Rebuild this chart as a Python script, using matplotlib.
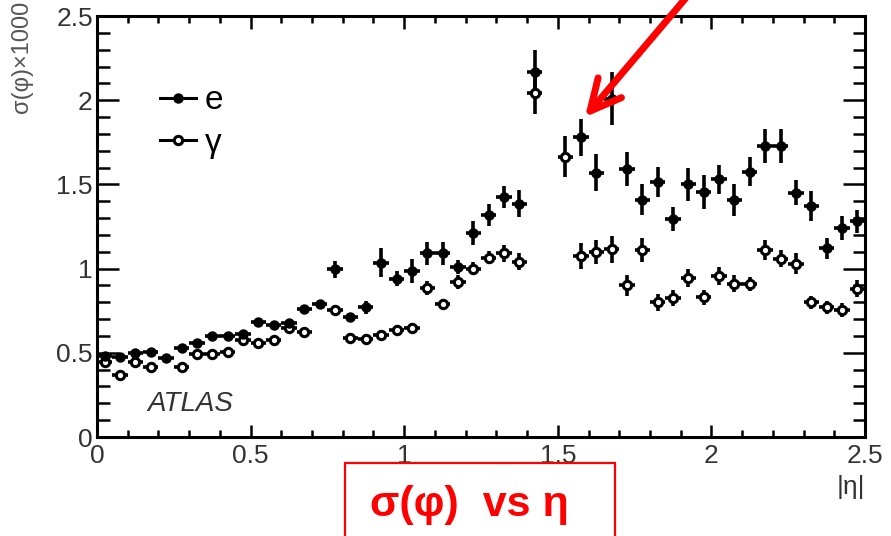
import matplotlib
matplotlib.use("Agg")
import matplotlib.pyplot as plt
import numpy as np
from matplotlib.lines import Line2D
from matplotlib.patches import Rectangle
from matplotlib.ticker import MultipleLocator

plt.rcParams["font.family"] = ["Liberation Sans", "DejaVu Sans"]

# |eta| bin centres, 0.05 wide bins from 0 to 2.5
eta = np.linspace(0.025, 2.475, 50)
half_bin = 0.025

nan = np.nan
# electrons: sigma(phi) x 1000 and its error
sigma_e = [0.48, 0.475, 0.50, 0.505, 0.47, 0.53, 0.56, 0.60, 0.60, 0.61,
           0.68, 0.665, 0.675, 0.76, 0.79, 0.997, 0.71, 0.77, 1.035, 0.94,
           0.985, 1.09, 1.09, 1.01, 1.21, 1.32, 1.425, 1.385, 2.17, nan,
           nan, 1.78, 1.57, 2.01, 1.59, 1.41, 1.515, 1.295, 1.50, 1.455,
           1.53, 1.41, 1.575, 1.73, 1.73, 1.45, 1.37, 1.12, 1.24, 1.28]
err_e = [0.02, 0.02, 0.02, 0.02, 0.02, 0.02, 0.02, 0.02, 0.02, 0.02,
         0.02, 0.02, 0.02, 0.025, 0.025, 0.05, 0.025, 0.04, 0.085, 0.045,
         0.07, 0.07, 0.07, 0.04, 0.07, 0.065, 0.065, 0.08, 0.13, nan,
         nan, 0.11, 0.11, 0.16, 0.10, 0.09, 0.09, 0.07, 0.10, 0.10,
         0.085, 0.095, 0.085, 0.10, 0.10, 0.075, 0.09, 0.06, 0.07, 0.07]

# photons
sigma_g = [0.445, 0.37, 0.445, 0.415, nan, 0.415, 0.49, 0.49, 0.505, 0.575,
           0.56, 0.575, 0.645, 0.625, nan, 0.755, 0.59, 0.58, 0.605, 0.635,
           0.645, 0.885, 0.79, 0.92, 1.00, 1.065, 1.09, 1.04, 2.04, nan,
           1.665, 1.075, 1.10, 1.115, 0.90, 1.11, 0.80, 0.825, 0.945, 0.83,
           0.955, 0.91, 0.91, 1.11, 1.06, 1.03, 0.80, 0.77, 0.755, 0.88]
err_g = [0.02, 0.02, 0.02, 0.02, nan, 0.02, 0.02, 0.02, 0.02, 0.02,
         0.02, 0.02, 0.02, 0.025, nan, 0.03, 0.03, 0.03, 0.03, 0.03,
         0.03, 0.04, 0.03, 0.04, 0.04, 0.04, 0.05, 0.05, 0.12, nan,
         0.12, 0.08, 0.07, 0.08, 0.06, 0.07, 0.05, 0.05, 0.055, 0.045,
         0.055, 0.05, 0.04, 0.06, 0.05, 0.06, 0.04, 0.04, 0.04, 0.05]

fig = plt.figure(figsize=(8.91, 5.36), dpi=100)
ax = fig.add_axes([0.1089, 0.1847, 0.8619, 0.7854])

ax.errorbar(eta, sigma_g, yerr=err_g, xerr=half_bin, fmt="o", ms=6,
            mfc="white", mec="black", mew=2.2, color="black",
            elinewidth=2.6, capsize=0)
ax.errorbar(eta, sigma_e, yerr=err_e, xerr=half_bin, fmt="o", ms=6.5,
            color="black", elinewidth=2.6, capsize=0)

ax.set_xlim(0, 2.5)
ax.set_ylim(0, 2.5)
ax.xaxis.set_major_locator(MultipleLocator(0.5))
ax.xaxis.set_minor_locator(MultipleLocator(0.1))
ax.yaxis.set_major_locator(MultipleLocator(0.5))
ax.yaxis.set_minor_locator(MultipleLocator(0.1))
for s in ax.spines.values():
    s.set_linewidth(2.2)
ax.tick_params(axis="both", which="both", direction="in", top=True,
               right=True, width=1.8, labelsize=19, colors="black",
               labelcolor="#333333")
ax.tick_params(axis="x", which="major", length=9, pad=5)
ax.tick_params(axis="x", which="minor", length=5)
ax.tick_params(axis="y", which="major", length=16, pad=3)
ax.tick_params(axis="y", which="minor", length=9)
ax.xaxis.set_major_formatter(plt.FuncFormatter(lambda v, p: f"{v:g}"))
ax.yaxis.set_major_formatter(plt.FuncFormatter(lambda v, p: f"{v:g}"))

ax.text(1.0, -0.09, "|η|", transform=ax.transAxes, ha="right", va="top",
        fontsize=19, color="#333333")
fig.text(0.025, 0.998, "σ(φ)×1000", rotation=90, ha="center", va="top",
         fontsize=17, color="#555555")
ax.text(0.066, 0.078, "ATLAS", transform=ax.transAxes, ha="left",
        va="center", fontsize=20, style="italic", color="#333333")

handles = [Line2D([], [], color="black", marker="o", ms=6.5, lw=2.2),
           Line2D([], [], color="black", marker="o", ms=6, lw=2.2,
                  mfc="white", mew=2.2)]
ax.legend(handles, ["e", "γ"], loc="upper left",
          bbox_to_anchor=(0.06, 0.875), frameon=False, fontsize=24,
          handlelength=1.1, handletextpad=0.25, labelspacing=0.35,
          borderpad=0)

# boxed caption and pointer
fig.patches.append(Rectangle((0.387, -0.02), 0.303, 0.156,
                             transform=fig.transFigure, fill=False,
                             edgecolor="red", lw=1.6))
fig.text(0.527, 0.058, "σ(φ)  vs η", ha="center", va="center",
         fontsize=31, fontweight="bold", color="red")
ax.annotate("", xy=(0.6566, 0.7817), xycoords="figure fraction",
            xytext=(0.778, 1.02), textcoords="figure fraction",
            arrowprops=dict(arrowstyle="->, head_length=2.2, head_width=1.1",
                            color="red", lw=5, shrinkA=0, shrinkB=0),
            annotation_clip=False)

fig.savefig("out.png", dpi=100)
